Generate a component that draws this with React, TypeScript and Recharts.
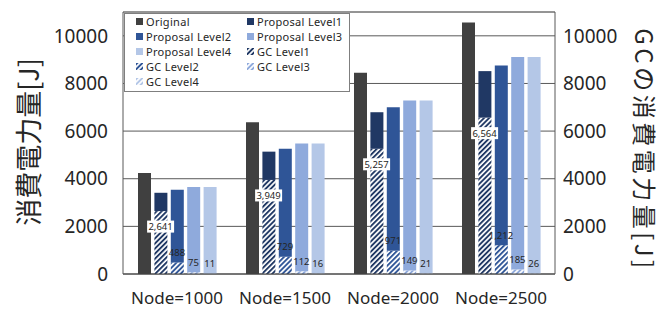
import React from 'react';
import { ComposedChart, Bar, Line, XAxis, YAxis, CartesianGrid, Legend, LabelList, ReferenceLine } from 'recharts';

// values
const categories = ['Node=1000', 'Node=1500', 'Node=2000', 'Node=2500'];
const original = [4240, 6370, 8450, 10556];
const proposal1 = [3410, 5137, 6792, 8518];
const proposal2 = [3537, 5263, 7002, 8758];
const proposal3 = [3650, 5474, 7284, 9107];
const proposal4 = [3650, 5474, 7284, 9107];
const gc1 = [2641, 3949, 5257, 6564];
const gc2 = [488, 729, 971, 1212];
const gc3 = [75, 112, 149, 185];
const gc4 = [11, 16, 21, 26];
const yTicks = [0, 2000, 4000, 6000, 8000, 10000];

const ORIGINAL_COLOR = '#404040';
const levelColors = ['#203864', '#2F5597', '#8FAADC', '#B4C7E7'];
const FONT = '"Noto Sans", sans-serif';
const JP_FONT = '"Noto Sans CJK JP", sans-serif';
const TEXT = '#262626';

const BAR_SIZE = 13;
const BAR_GAP = 3.4;
const PITCH = BAR_SIZE + BAR_GAP;

// GC part is drawn as the hatched bottom of each proposal bar
const data = categories.map((name, i) => ({
  name,
  original: original[i],
  gc1: gc1[i],
  rest1: proposal1[i] - gc1[i],
  gc2: gc2[i],
  rest2: proposal2[i] - gc2[i],
  gc3: gc3[i],
  rest3: proposal3[i] - gc3[i],
  gc4: gc4[i],
  rest4: proposal4[i] - gc4[i],
}));

const legendItems = [
  { name: 'Original', fill: ORIGINAL_COLOR },
  { name: 'Proposal Level1', fill: levelColors[0] },
  { name: 'Proposal Level2', fill: levelColors[1] },
  { name: 'Proposal Level3', fill: levelColors[2] },
  { name: 'Proposal Level4', fill: levelColors[3] },
  { name: 'GC Level1', fill: 'url(#gcHatch0)' },
  { name: 'GC Level2', fill: 'url(#gcHatch1)' },
  { name: 'GC Level3', fill: 'url(#gcHatch2)' },
  { name: 'GC Level4', fill: 'url(#gcHatch3)' },
];

const fmt = (v: any) => Number(v).toLocaleString('en-US');

// labels hang off invisible lines at the category centre; slot k of 5 bars sits at (k-2)*PITCH
const pointOf = (props: any) => {
  const vb = props.viewBox || {};
  return { x: props.x ?? vb.x, y: props.y ?? vb.y };
};

const boxLabel = (props: any) => {
  const { x, y } = pointOf(props);
  const cx = x - PITCH;
  return (
    <g>
      <rect x={cx - 13.5} y={y + 9.5} width={27} height={12} fill="#fff" />
      <text x={cx} y={y + 15.5} textAnchor="middle" dominantBaseline="central"
        fontFamily={FONT} fontSize={9.5} fill={TEXT}>{fmt(props.value)}</text>
    </g>
  );
};

const topLabel = (slot: number) => (props: any) => {
  const { x, y } = pointOf(props);
  return (
    <text x={x + slot * PITCH} y={y - 10} textAnchor="middle" dominantBaseline="central"
      fontFamily={FONT} fontSize={9.5} fill={TEXT}>{fmt(props.value)}</text>
  );
};

const renderLegend = () => (
  <div style={{
    boxSizing: 'border-box', width: 226, height: 79, border: '1px solid #7f7f7f', background: '#fff',
    display: 'grid', gridTemplateColumns: '111px 110px', gridAutoRows: '15px', padding: '0 0 0 11px',
    fontFamily: FONT, fontSize: 11, letterSpacing: 0.3, lineHeight: '15px', color: TEXT,
  }}>
    {legendItems.map((it) => (
      <div key={it.name} style={{ display: 'flex', alignItems: 'center', whiteSpace: 'nowrap', height: 15 }}>
        <svg width={7} height={7} style={{ marginRight: 3, flex: 'none' }}>
          <rect width={7} height={7} fill={it.fill} />
        </svg>
        {it.name}
      </div>
    ))}
  </div>
);

const leftTitle = () => (
  <text x={27} y={142} transform="rotate(-90 27 142)" textAnchor="middle" dominantBaseline="central"
    fontFamily={JP_FONT} fontSize={27} fill={TEXT}>消費電力量[J]</text>
);

const rightTitle = () => (
  <text x={645} y={150} transform="rotate(90 645 150)" textAnchor="middle" dominantBaseline="central"
    fontFamily={JP_FONT} fontSize={24} letterSpacing={3.5} fill={TEXT}>GCの消費電力量[J]</text>
);

export default function App() {
  return (
    <div style={{ position: 'absolute', left: 0, top: 0, background: '#fff' }}>
      <ComposedChart width={667} height={311} data={data} margin={{ top: 12, right: 0, bottom: 0, left: 0 }}
        barSize={BAR_SIZE} barGap={BAR_GAP}>
        <defs>
          {levelColors.map((c, i) => (
            <pattern key={i} id={`gcHatch${i}`} patternUnits="userSpaceOnUse" width={3.6} height={3.6}
              patternTransform="rotate(45)">
              <rect width={3.6} height={3.6} fill="#fff" />
              <rect width={1.9} height={3.6} fill={c} />
            </pattern>
          ))}
        </defs>
        <CartesianGrid horizontal vertical={false} stroke="#595959" />
        <ReferenceLine y={11000} stroke="#7f7f7f" />
        <XAxis dataKey="name" axisLine={{ stroke: '#404040' }} tickLine={false} tickSize={0} tickMargin={18}
          height={37} tick={{ fontSize: 17, fill: TEXT, fontFamily: FONT }} />
        <YAxis domain={[0, 11000]} ticks={yTicks} width={123} axisLine={{ stroke: '#595959' }} tickLine={false}
          tickSize={0} tickMargin={15} tick={{ fontSize: 19, fill: TEXT, fontFamily: FONT }} label={leftTitle} />
        <YAxis yAxisId="right" orientation="right" domain={[0, 11000]} ticks={yTicks} width={112}
          axisLine={{ stroke: '#595959' }} tickLine={false} tickSize={0} tickMargin={8}
          tick={{ fontSize: 19, fill: TEXT, fontFamily: FONT, textAnchor: 'start' }} label={rightTitle} />
        <Legend layout="vertical" align="center" verticalAlign="middle" content={renderLegend}
          wrapperStyle={{ left: 124, top: 13, width: 226, height: 79 }} />

        <Bar dataKey="original" stackId="o" fill={ORIGINAL_COLOR} isAnimationActive={false} />
        <Bar dataKey="gc1" stackId="s1" fill="url(#gcHatch0)" isAnimationActive={false} />
        <Bar dataKey="rest1" stackId="s1" fill={levelColors[0]} isAnimationActive={false} />
        <Bar dataKey="gc2" stackId="s2" fill="url(#gcHatch1)" isAnimationActive={false} />
        <Bar dataKey="rest2" stackId="s2" fill={levelColors[1]} isAnimationActive={false} />
        <Bar dataKey="gc3" stackId="s3" fill="url(#gcHatch2)" isAnimationActive={false} />
        <Bar dataKey="rest3" stackId="s3" fill={levelColors[2]} isAnimationActive={false} />
        <Bar dataKey="gc4" stackId="s4" fill="url(#gcHatch3)" isAnimationActive={false} />
        <Bar dataKey="rest4" stackId="s4" fill={levelColors[3]} isAnimationActive={false} />

        {/* GC values on the right axis, drawn last so the labels sit above every bar */}
        <Line yAxisId="right" dataKey="gc1" stroke="none" dot={false} activeDot={false} legendType="none"
          isAnimationActive={false}>
          <LabelList dataKey="gc1" content={boxLabel} />
        </Line>
        <Line yAxisId="right" dataKey="gc2" stroke="none" dot={false} activeDot={false} legendType="none"
          isAnimationActive={false}>
          <LabelList dataKey="gc2" content={topLabel(0)} />
        </Line>
        <Line yAxisId="right" dataKey="gc3" stroke="none" dot={false} activeDot={false} legendType="none"
          isAnimationActive={false}>
          <LabelList dataKey="gc3" content={topLabel(1)} />
        </Line>
        <Line yAxisId="right" dataKey="gc4" stroke="none" dot={false} activeDot={false} legendType="none"
          isAnimationActive={false}>
          <LabelList dataKey="gc4" content={topLabel(2)} />
        </Line>
      </ComposedChart>
    </div>
  );
}
